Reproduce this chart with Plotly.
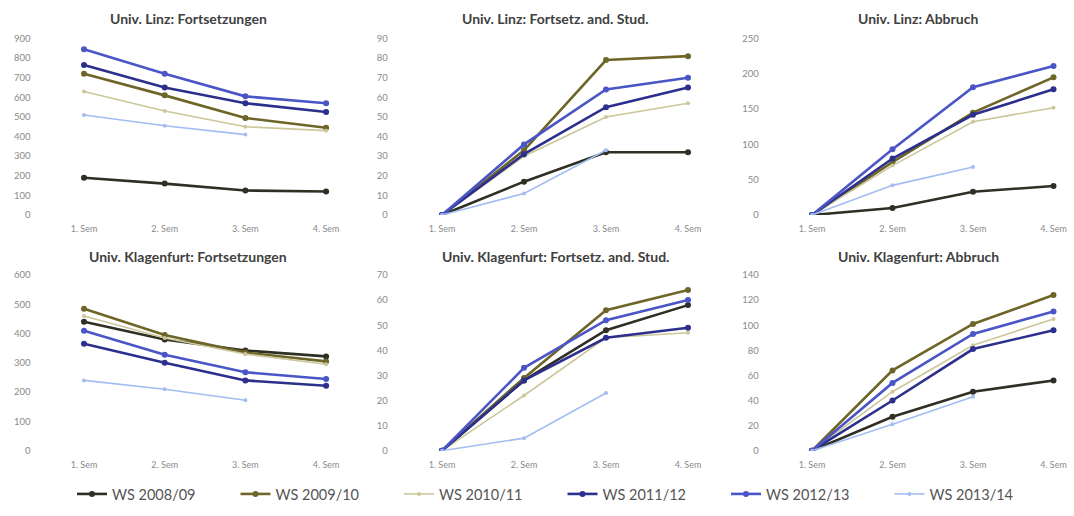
import plotly.graph_objects as go

W, H = 1074, 516

categories = ["1. Sem", "2. Sem", "3. Sem", "4. Sem"]
series_names = ["WS 2008/09", "WS 2009/10", "WS 2010/11", "WS 2011/12", "WS 2012/13", "WS 2013/14"]
series_colors = ["#2f2f24", "#6e6628", "#cbc79a", "#2c2f8c", "#4a55c6", "#a3bdf2"]
series_widths = [2.6, 2.6, 1.6, 2.6, 2.6, 1.6]

titles = [
    "Univ. Linz: Fortsetzungen",
    "Univ. Linz: Fortsetz. and. Stud.",
    "Univ. Linz: Abbruch",
    "Univ. Klagenfurt: Fortsetzungen",
    "Univ. Klagenfurt: Fortsetz. and. Stud.",
    "Univ. Klagenfurt: Abbruch",
]
y_max = [900, 90, 250, 600, 70, 140]
y_step = [100, 10, 50, 100, 10, 20]

# values per panel, per series (None = no data)
linz_fort = [
    [190, 160, 125, 120],
    [720, 610, 495, 445],
    [630, 530, 450, 430],
    [765, 650, 570, 525],
    [845, 720, 605, 570],
    [510, 455, 410, None],
]
linz_and = [
    [0, 17, 32, 32],
    [0, 33, 79, 81],
    [0, 30, 50, 57],
    [0, 31, 55, 65],
    [0, 36, 64, 70],
    [0, 11, 33, None],
]
linz_abb = [
    [0, 10, 33, 41],
    [0, 75, 145, 195],
    [0, 70, 132, 152],
    [0, 80, 142, 178],
    [0, 93, 181, 211],
    [0, 42, 68, None],
]
klu_fort = [
    [440, 380, 342, 322],
    [485, 395, 335, 305],
    [460, 385, 330, 295],
    [365, 300, 240, 222],
    [410, 328, 268, 245],
    [240, 210, 172, None],
]
klu_and = [
    [0, 28, 48, 58],
    [0, 29, 56, 64],
    [0, 22, 45, 47],
    [0, 28, 45, 49],
    [0, 33, 52, 60],
    [0, 5, 23, None],
]
klu_abb = [
    [0, 27, 47, 56],
    [0, 64, 101, 124],
    [0, 47, 84, 105],
    [0, 40, 81, 96],
    [0, 54, 93, 111],
    [0, 21, 43, None],
]
panels = [linz_fort, linz_and, linz_abb, klu_fort, klu_and, klu_abb]

# layout geometry in pixels
col_first = [84, 442, 812]   # x of first category
col_step = [80.7, 82.0, 80.5]
row_top = [38.5, 275.0]      # y pixel of max
row_bot = [215.0, 450.7]     # y pixel of zero
xr = [-0.6, 3.2]
title_x = [188, 555, 918]
title_y = [19, 256]

fig = go.Figure()
layout = {}
for p in range(6):
    r, c = divmod(p, 3)
    idx = "" if p == 0 else str(p + 1)
    x0 = col_first[c] + xr[0] * col_step[c]
    x1 = col_first[c] + xr[1] * col_step[c]
    layout["xaxis" + idx] = dict(
        domain=[x0 / W, x1 / W], anchor="y" + idx, type="category",
        categoryorder="array", categoryarray=categories, range=xr,
        showgrid=False, zeroline=False, showline=False, ticks="",
        tickfont=dict(size=9, color="#8a8a8a", family="Lato"),
        ticklabelstandoff=7, automargin=False,
    )
    layout["yaxis" + idx] = dict(
        domain=[(H - row_bot[r]) / H, (H - row_top[r]) / H], anchor="x" + idx,
        range=[0, y_max[p]], dtick=y_step[p], tick0=0,
        showgrid=False, zeroline=False, showline=False, ticks="",
        tickfont=dict(size=9.5, color="#8a8a8a", family="Lato"),
        ticklabelstandoff=4, automargin=False,
    )
    for s in range(6):
        fig.add_trace(go.Scatter(
            x=categories, y=panels[p][s], mode="lines+markers",
            name=series_names[s], legendgroup=series_names[s],
            showlegend=(p == 0),
            line=dict(color=series_colors[s], width=series_widths[s]),
            marker=dict(color=series_colors[s], size=6 if series_widths[s] > 2 else 4),
            xaxis="x" + idx, yaxis="y" + idx, connectgaps=False,
        ))

annotations = []
for p in range(6):
    r, c = divmod(p, 3)
    annotations.append(dict(
        text="<b>" + titles[p] + "</b>", x=title_x[c] / W, y=(H - title_y[r]) / H,
        xref="paper", yref="paper", xanchor="center", yanchor="middle",
        showarrow=False, font=dict(size=14, color="#404040", family="Lato"),
    ))

fig.update_layout(
    **layout,
    annotations=annotations,
    width=W, height=H,
    margin=dict(l=0, r=0, t=0, b=0, autoexpand=False),
    paper_bgcolor="white", plot_bgcolor="white",
    legend=dict(
        orientation="h", x=72 / W, xanchor="left", y=(H - 494) / H, yanchor="middle",
        font=dict(size=14.5, color="#555555", family="Lato"),
        itemwidth=30, entrywidth=118.5, entrywidthmode="pixels",
        bgcolor="rgba(0,0,0,0)",
    ),
    font=dict(family="Lato"),
)

fig.write_html(
    "out.html",
    config={"displayModeBar": False},
    post_script="document.body.style.margin='0';document.body.style.overflow='hidden';",
)
